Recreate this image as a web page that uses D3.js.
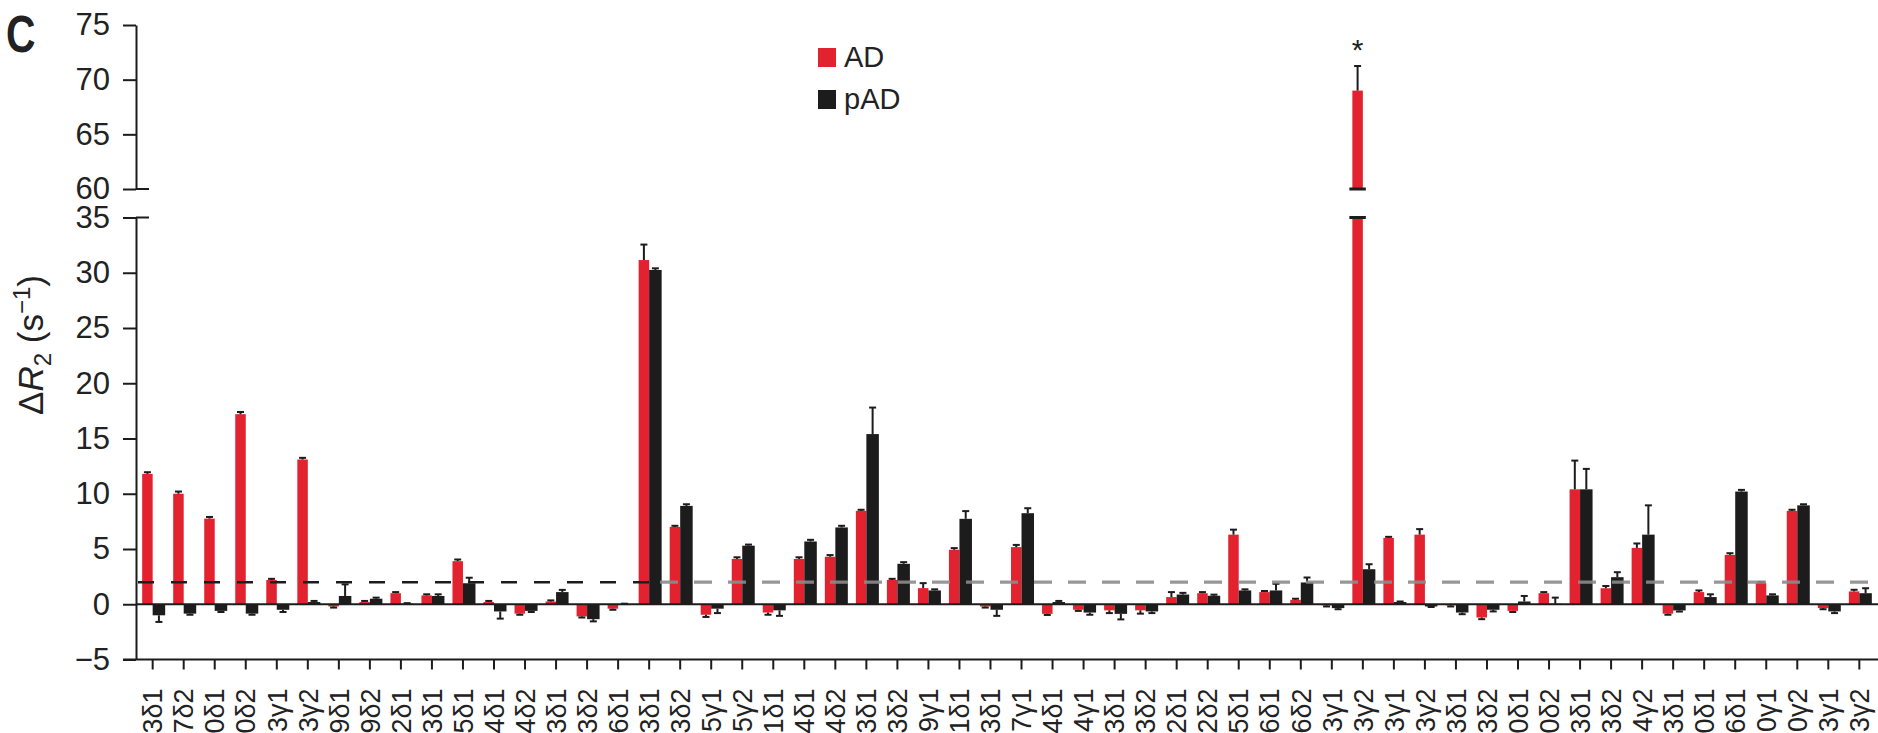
<!DOCTYPE html>
<html>
<head>
<meta charset="utf-8">
<script src="https://cdn.jsdelivr.net/npm/d3@7"></script>
<style>
  html, body { margin: 0; padding: 0; background: #fff; overflow: hidden; }
  svg { display: block; font-family: "Liberation Sans", Arial, Helvetica, sans-serif; }
</style>
</head>
<body>
<svg id="chart" width="1878" height="733"></svg>
<script>
// Methyl probe labels (tail of each residue name)
const residues = [
  "3δ1","7δ2","0δ1","0δ2","3γ1","3γ2","9δ1","9δ2","2δ1","3δ1","5δ1","4δ1","4δ2","3δ1","3δ2","6δ1",
  "3δ1","3δ2","5γ1","5γ2","1δ1","4δ1","4δ2","3δ1","3δ2","9γ1","1δ1","3δ1","7γ1","4δ1","4γ1","3δ1",
  "3δ2","2δ1","2δ2","5δ1","6δ1","6δ2","3γ1","3γ2","3γ1","3γ2","3δ1","3δ2","0δ1","0δ2","3δ1","3δ2",
  "4γ2","3δ1","0δ1","6δ1","0γ1","0γ2","3γ1","3γ2"
];

// ΔR2 (s⁻¹) for the AD series and its error
const adValues = [
  11.8, 10.0, 7.75, 17.2, 2.2, 13.1, -0.2, 0.2, 1.0, 0.8, 3.9, 0.2, -0.85, 0.25, -1.1, -0.4,
  31.15, 7.0, -0.95, 4.1, -0.75, 4.1, 4.3, 8.45, 2.2, 1.46, 4.93, -0.2, 5.17, -0.87, -0.5, -0.55,
  -0.55, 0.65, 1.0, 6.3, 1.1, 0.4, -0.1, 69.0, 6.0, 6.3, -0.1, -1.2, -0.6, 1.0, 10.4, 1.45,
  5.1, -0.85, 1.1, 4.47, 1.92, 8.45, -0.35, 1.16
];
const adErrors = [
  0.15, 0.2, 0.15, 0.2, 0.1, 0.15, 0.1, 0.1, 0.1, 0.1, 0.15, 0.1, 0.1, 0.1, 0.1, 0.1,
  1.4, 0.1, 0.2, 0.15, 0.2, 0.15, 0.15, 0.1, 0.1, 0.45, 0.15, 0.1, 0.2, 0.1, 0.1, 0.25,
  0.3, 0.45, 0.1, 0.45, 0.1, 0.1, 0.1, 2.25, 0.1, 0.5, 0.1, 0.15, 0.1, 0.1, 2.6, 0.2,
  0.4, 0.1, 0.15, 0.15, 0.1, 0.1, 0.1, 0.15
];

// ΔR2 (s⁻¹) for the pAD series and its error
const padValues = [
  -1.0, -0.85, -0.6, -0.85, -0.5, 0.2, 0.75, 0.5, 0.05, 0.75, 1.9, -0.65, -0.6, 1.1, -1.35, 0.0,
  30.25, 8.9, -0.4, 5.3, -0.55, 5.68, 6.95, 15.4, 3.66, 1.25, 7.73, -0.5, 8.24, 0.2, -0.75, -0.87,
  -0.65, 0.88, 0.77, 1.25, 1.25, 1.97, -0.35, 3.17, 0.2, -0.2, -0.75, -0.5, 0.25, 0.05, 10.4, 2.45,
  6.3, -0.56, 0.65, 10.2, 0.8, 8.95, -0.65, 1.0
];
const padErrors = [
  0.6, 0.1, 0.1, 0.1, 0.2, 0.1, 1.05, 0.1, 0.05, 0.15, 0.5, 0.65, 0.1, 0.2, 0.2, 0.05,
  0.15, 0.15, 0.4, 0.1, 0.5, 0.15, 0.15, 2.4, 0.15, 0.1, 0.7, 0.55, 0.45, 0.1, 0.2, 0.5,
  0.15, 0.15, 0.1, 0.1, 0.6, 0.45, 0.1, 0.45, 0.05, 0.05, 0.15, 0.15, 0.5, 0.55, 1.85, 0.45,
  2.65, 0.1, 0.25, 0.15, 0.1, 0.1, 0.15, 0.45
];

const lowerTicks = [-5, 0, 5, 10, 15, 20, 25, 30, 35];
const upperTicks = [60, 65, 70, 75];
const threshold = 2;
const seriesNames = ["AD", "pAD"];
const significant = [39];

const RED = "#e2232f";
const BLACK = "#1c1c1c";

const svg = d3.select("#chart");
const axisX = 136;
const rightEdge = 1878;

// Category positions
const x = d3.scaleBand()
  .domain(d3.range(residues.length))
  .range([axisX, 1876])
  .paddingInner(0)
  .paddingOuter(0.037);

// Broken y axis: lower segment and upper segment
const yLow = d3.scaleLinear().domain([-5, 35]).range([659.5, 217.5]);
const yHigh = d3.scaleLinear().domain([60, 75]).range([189, 25]);
const lowMax = 35, highMin = 60;

const center = i => x(i) + x.bandwidth() / 2;
const redW = 10.5, blackW = 12.5;
const series = [
  { name: "AD", values: adValues, errors: adErrors, color: RED, x0: i => center(i) - redW, w: redW },
  { name: "pAD", values: padValues, errors: padErrors, color: BLACK, x0: i => center(i), w: blackW }
];

const gBars = svg.append("g");
series.forEach(s => {
  s.values.forEach((v, i) => {
    const x0 = s.x0(i);
    const vLow = Math.min(v, lowMax);
    const ya = yLow(Math.max(0, vLow)), yb = yLow(Math.min(0, vLow));
    gBars.append("rect")
      .attr("x", x0).attr("width", s.w)
      .attr("y", ya).attr("height", Math.max(0.8, yb - ya))
      .attr("fill", s.color);
    if (v > highMin) {
      gBars.append("rect")
        .attr("x", x0).attr("width", s.w)
        .attr("y", yHigh(v)).attr("height", yHigh(highMin) - yHigh(v))
        .attr("fill", s.color);
      // break marks across the bar
      [yHigh(highMin), yLow(lowMax)].forEach(yy => {
        gBars.append("line")
          .attr("x1", x0 - 3).attr("x2", x0 + s.w + 3)
          .attr("y1", yy).attr("y2", yy)
          .attr("stroke", BLACK).attr("stroke-width", 3);
      });
    }
  });
});

// Error bars
const gErr = svg.append("g").attr("stroke", BLACK).attr("stroke-width", 2).attr("fill", "none");
series.forEach(s => {
  s.values.forEach((v, i) => {
    const cx = s.x0(i) + s.w / 2;
    const e = s.errors[i];
    const end = v >= 0 ? v + e : v - e;
    const yScale = v > highMin ? yHigh : yLow;
    const y1 = yScale(v), y2 = yScale(end);
    gErr.append("line").attr("x1", cx).attr("x2", cx).attr("y1", y1).attr("y2", y2);
    gErr.append("line").attr("x1", cx - 3.5).attr("x2", cx + 3.5).attr("y1", y2).attr("y2", y2);
  });
});

// Threshold line at 2 s⁻¹
const yT = yLow(threshold);
svg.append("line")
  .attr("x1", axisX + 2).attr("x2", 650).attr("y1", yT).attr("y2", yT)
  .attr("stroke", BLACK).attr("stroke-width", 2.5).attr("stroke-dasharray", "16 17");
svg.append("line")
  .attr("x1", 660).attr("x2", rightEdge).attr("y1", yT).attr("y2", yT)
  .attr("stroke", "#8c8c8c").attr("stroke-width", 3.2).attr("stroke-dasharray", "18 16")
  .attr("stroke-opacity", 0.9);

// Zero line
svg.append("line")
  .attr("x1", axisX).attr("x2", rightEdge).attr("y1", yLow(0)).attr("y2", yLow(0))
  .attr("stroke", BLACK).attr("stroke-width", 2);

// Y axes
function styleAxis(g) {
  g.select(".domain").attr("stroke", BLACK).attr("stroke-width", 2);
  g.selectAll(".tick line").attr("stroke", BLACK).attr("stroke-width", 2);
  g.selectAll(".tick text").attr("fill", "#222").style("font-size", "31px");
}
svg.append("g")
  .attr("transform", `translate(${axisX},0)`)
  .call(d3.axisLeft(yLow).tickValues(lowerTicks).tickSize(13).tickSizeOuter(0).tickPadding(13))
  .call(styleAxis);
svg.append("g")
  .attr("transform", `translate(${axisX},0)`)
  .call(d3.axisLeft(yHigh).tickValues(upperTicks).tickSize(13).tickSizeOuter(0).tickPadding(13))
  .call(styleAxis);
// caps at the axis break
[yHigh(highMin), yLow(lowMax)].forEach(yy => {
  svg.append("line")
    .attr("x1", axisX).attr("x2", axisX + 13).attr("y1", yy).attr("y2", yy)
    .attr("stroke", BLACK).attr("stroke-width", 2);
});

// X axis
const gx = svg.append("g")
  .attr("transform", `translate(0,${yLow(-5)})`)
  .call(d3.axisBottom(x).tickFormat(i => residues[i]).tickSize(10).tickSizeOuter(0));
gx.select(".domain").remove();
gx.selectAll(".tick line").attr("stroke", BLACK).attr("stroke-width", 2);
gx.selectAll(".tick text")
  .attr("transform", "rotate(-90)")
  .attr("x", -29).attr("y", 0).attr("dy", "0.36em")
  .attr("text-anchor", "end")
  .attr("fill", "#222")
  .style("font-size", "27px");
svg.append("line")
  .attr("x1", axisX - 13).attr("x2", rightEdge).attr("y1", yLow(-5)).attr("y2", yLow(-5))
  .attr("stroke", BLACK).attr("stroke-width", 2);

// Y axis title: ΔR2 (s−1)
const title = svg.append("text")
  .attr("transform", `translate(43,345) rotate(-90)`)
  .attr("text-anchor", "middle")
  .attr("fill", "#222")
  .style("font-size", "35px");
title.append("tspan").text("Δ");
title.append("tspan").attr("font-style", "italic").text("R");
title.append("tspan").attr("dy", 8).style("font-size", "24px").text("2");
title.append("tspan").attr("dy", -8).text(" (s");
title.append("tspan").attr("dy", -13).style("font-size", "24px").text("−1");
title.append("tspan").attr("dy", 13).text(")");

// Panel letter
svg.append("text")
  .attr("transform", "translate(6,52) scale(0.8,1)")
  .attr("fill", "#222")
  .style("font-size", "51px").style("font-weight", "bold")
  .text("C");

// Significance marker
significant.forEach(i => {
  svg.append("text")
    .attr("x", center(i) - redW / 2).attr("y", 60)
    .attr("text-anchor", "middle")
    .attr("fill", "#222")
    .style("font-size", "30px")
    .text("*");
});

// Legend
const legend = svg.append("g").attr("transform", "translate(818,48)");
seriesNames.forEach((name, k) => {
  const row = legend.append("g").attr("transform", `translate(0,${k * 42})`);
  row.append("rect").attr("width", 18).attr("height", 19).attr("fill", k === 0 ? RED : BLACK);
  row.append("text").attr("x", 26).attr("y", 19).attr("fill", "#222")
    .style("font-size", "29px").text(name);
});
</script>
</body>
</html>
